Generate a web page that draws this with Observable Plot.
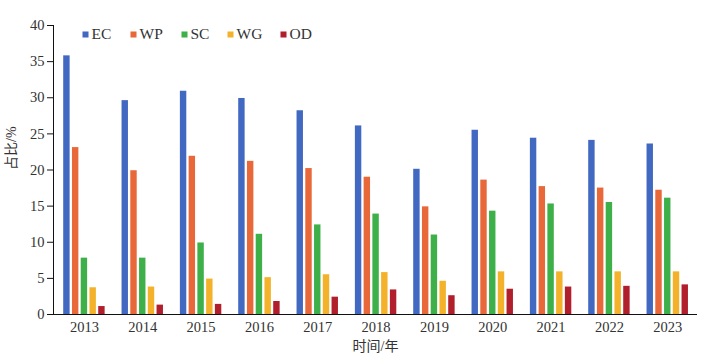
<!DOCTYPE html>
<html><head><meta charset="utf-8">
<script src="https://cdn.jsdelivr.net/npm/d3@7"></script>
<script src="https://cdn.jsdelivr.net/npm/@observablehq/plot@0.6"></script>
<style>body{margin:0;background:#fff}</style>
</head><body><div id="chart"></div>
<script>
const years = [2013, 2014, 2015, 2016, 2017, 2018, 2019, 2020, 2021, 2022, 2023];
const series = ["EC", "WP", "SC", "WG", "OD"];
const EC = [35.8, 29.6, 30.9, 29.9, 28.2, 26.1, 20.1, 25.5, 24.4, 24.1, 23.6];
const WP = [23.1, 19.9, 21.9, 21.2, 20.2, 19.0, 14.9, 18.6, 17.7, 17.5, 17.2];
const SC = [7.8, 7.8, 9.9, 11.1, 12.4, 13.9, 11.0, 14.3, 15.3, 15.5, 16.1];
const WG = [3.7, 3.8, 4.9, 5.1, 5.5, 5.8, 4.6, 5.9, 5.9, 5.9, 5.9];
const OD = [1.1, 1.3, 1.4, 1.8, 2.4, 3.4, 2.6, 3.5, 3.8, 3.9, 4.1];
const yTicks = [0, 5, 10, 15, 20, 25, 30, 35, 40];
const colors = ["#4269C1", "#E8683A", "#3DB04A", "#F3B229", "#B21F2C"];
const yLabel = "占比/%";
const xLabel = "时间/年";

const seriesValues = [EC, WP, SC, WG, OD];
const table = [];
series.forEach((s, i) => seriesValues[i].forEach((v, j) => table.push({year: years[j], series: s, idx: i, value: v})));

// grouped-bar layout (in year units)
const groupHalf = 0.355, step = 0.15, barW = 0.11;
const legendDx = [32, 80, 131, 177, 230];

const legendMarks = series.flatMap((s, i) => [
  Plot.dot([s], {frameAnchor: "top-left", dx: legendDx[i], dy: 9, symbol: "square", r: 3.4, fill: colors[i], stroke: null}),
  Plot.text([s], {frameAnchor: "top-left", lineAnchor: "middle", dx: legendDx[i] + 6, dy: 9, text: d => d, textAnchor: "start", fill: "#333", fontSize: 15.5})
]);

const chart = Plot.plot({
  width: 708,
  height: 360,
  marginLeft: 53,
  marginRight: 11,
  marginTop: 25,
  marginBottom: 46,
  style: {fontFamily: "'Liberation Serif', 'Noto Sans CJK SC', serif", fontSize: "14px", color: "#333", background: "#fff"},
  x: {type: "linear", domain: [2012.47, 2023.51], label: null},
  y: {domain: [0, 40], label: null},
  color: {domain: series, range: colors},
  marks: [
    Plot.rectY(table, {
      x1: d => d.year - groupHalf + d.idx * step,
      x2: d => d.year - groupHalf + d.idx * step + barW,
      y: "value",
      fill: "series"
    }),
    Plot.axisY(yTicks, {tickSize: 6, tickPadding: 3, label: null, stroke: "#111", fill: "#333", fontSize: 14.5}),
    Plot.frame({anchor: "left", stroke: "#111"}),
    Plot.axisX(years, {tickSize: 0, tickPadding: 7, tickFormat: "d", label: null, fill: "#333", fontSize: 14.5}),
    Plot.ruleY([0], {stroke: "#111"}),
    Plot.text([yLabel], {frameAnchor: "left", dx: -42, rotate: -90, text: d => d, fill: "#333", fontSize: 14}),
    Plot.text([xLabel], {frameAnchor: "bottom", dy: 36, text: d => d, fill: "#333", fontSize: 14}),
    ...legendMarks
  ]
});
document.getElementById("chart").appendChild(chart);
</script>
</body></html>
